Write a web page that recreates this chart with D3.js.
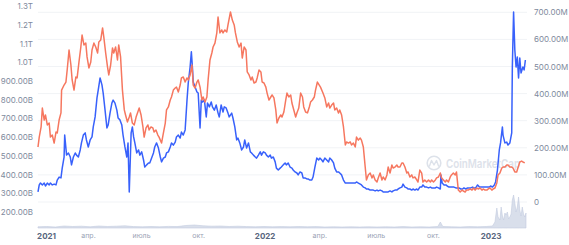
<!DOCTYPE html>
<html><head><meta charset="utf-8">
<script src="https://cdn.jsdelivr.net/npm/d3@7"></script>
<style>
body{margin:0;background:#fff;}
svg{display:block;font-family:Inter,"Noto Sans",sans-serif;}
</style>
</head><body>
<svg id="chart" width="569" height="245"></svg>
<script>
// ---- x axis: ordinal positions (sample index, ~1 per day) ----
const xTickPos    = [13, 80.5, 166, 258, 365, 453, 544, 636, 729];
const xTickLabels = ["2021","апр.","июль","окт.","2022","апр.","июль","окт.","2023"];
const xTickYear   = [true,false,false,false,true,false,false,false,true];

// ---- left axis (orange series, market value in B) ----
const leftTicks  = [200,300,400,500,600,700,800,900,1000,1100,1200,1300];
const leftLabels = ["200.00B","300.00B","400.00B","500.00B","600.00B","700.00B","800.00B","900.00B","1.0T","1.1T","1.2T","1.3T"];
// ---- right axis (blue series, in M) ----
const rightTicks  = [0,100,200,300,400,500,600,700];
const rightLabels = ["0","100.00M","200.00M","300.00M","400.00M","500.00M","600.00M","700.00M"];

// ---- orange series ----
const orangePos = [0,2,5,7,10,12,15,18,20,23,26,29,31,34,37,38,42,45,47,50,53,55,58,61,63,66,69,71,74,77,79,82,85,87,90,93,96,98,101,104,106,109,112,114,117,120,122,125,128,130,133,136,139,141,144,147,149,152,155,158,163,166,169,171,174,177,179,182,185,187,190,193,195,199,202,205,207,210,213,215,218,221,223,226,229,231,234,237,240,242,245,248,250,253,256,258,261,264,266,269,272,274,277,280,282,285,288,290,293,296,298,301,304,306,310,313,316,318,321,324,327,329,332,335,337,340,343,345,348,351,353,356,359,361,364,367,369,372,375,377,380,383,385,388,391,393,396,399,401,404,407,409,412,415,417,420,423,426,428,431,434,437,439,442,445,447,450,453,455,459,462,465,468,470,473,476,478,481,484,486,489,492,495,497,500,503,505,508,511,513,516,519,521,524,527,529,532,535,538,540,543,546,548,551,554,556,559,562,564,567,570,572,575,578,580,583,586,588,591,594,596,599,602,604,607,610,612,615,618,620,623,626,629,632,634,637,640,642,645,648,650,653,656,658,661,664,666,669,672,674,677,680,683,685,688,690,693,696,699,701,704,707,709,712,715,717,720,723,725,728,731,733,736,739,741,744,747,749,752,755,757,760,763,765,768,771,773,776,779,781,784];
const orangeValues = [547,600,654,755,691,718,665,675,600,611,568,627,622,691,729,851,878,894,958,1065,985,905,851,921,916,1001,1081,1145,1092,1102,1028,969,1001,1065,1102,1081,1049,1108,1118,1183,1134,1049,974,932,985,1076,1049,1081,1012,1092,1028,851,745,718,681,707,729,675,665,707,755,718,654,600,649,665,638,654,649,627,638,611,600,568,622,675,745,761,798,814,851,862,867,841,878,916,921,894,916,905,932,985,878,862,894,905,867,798,814,787,814,905,1012,1049,1081,1102,1156,1241,1156,1172,1156,1172,1161,1199,1268,1225,1199,1156,1108,1081,1102,1022,1081,1065,948,932,905,921,889,894,916,958,948,894,889,867,835,798,814,825,809,745,675,702,718,707,734,798,835,814,825,782,745,707,729,755,835,814,761,734,729,761,787,798,814,851,894,878,867,835,809,761,782,755,771,782,745,755,729,745,718,654,558,574,568,574,558,568,547,600,584,595,584,547,440,371,398,408,382,398,371,360,382,408,371,387,371,398,440,408,451,435,440,451,440,440,462,462,440,408,414,387,398,382,387,371,360,424,408,360,371,360,371,360,371,360,371,382,387,408,382,371,360,371,360,387,398,408,398,414,317,307,317,312,307,317,317,323,317,328,317,328,323,328,317,323,317,317,323,328,317,323,328,355,398,408,435,440,440,451,451,440,440,435,414,414,435,467,472,467,462];

// ---- blue series ----
const bluePos = [0,2,4,7,10,12,15,18,20,23,26,29,31,34,37,39,42,43,46,49,52,54,57,60,62,65,68,70,73,76,78,81,84,87,89,92,95,97,100,103,105,108,111,113,116,119,121,124,127,129,132,135,137,140,143,145,147,150,152,154,156,159,162,164,167,170,172,175,178,180,183,186,188,191,194,197,199,202,205,207,210,213,215,218,221,223,226,229,231,234,237,240,242,245,247,249,250,253,256,258,261,263,265,268,271,273,276,279,281,284,287,290,292,295,298,300,303,306,308,312,314,317,320,322,325,328,331,333,336,339,342,344,347,350,352,355,358,360,363,366,368,371,374,376,379,382,384,387,390,392,395,398,400,403,406,409,411,414,417,419,422,425,427,430,433,435,438,441,443,446,449,452,454,457,459,462,465,468,470,473,476,478,481,484,486,489,492,495,497,500,503,505,508,511,513,516,519,521,524,527,529,532,535,538,540,543,546,548,551,554,556,559,562,564,567,570,572,575,578,580,583,586,588,591,594,596,599,602,604,607,610,612,615,618,620,623,626,629,632,634,637,640,642,645,648,649,651,654,657,659,662,665,668,670,673,676,678,681,684,686,689,692,694,697,700,702,705,708,711,713,716,719,721,724,727,729,732,735,737,740,743,745,748,749,752,755,757,760,763,764,766,768,770,772,774,776,778,781,783,785];
const blueValues = [37,63,70,63,70,59,70,63,70,63,66,63,81,92,89,125,166,247,173,181,166,137,166,181,173,166,192,218,247,255,229,203,229,240,277,314,384,413,458,432,402,339,273,284,328,365,376,365,339,310,303,284,247,203,166,218,37,255,277,240,218,181,192,173,185,155,129,137,144,144,162,181,203,218,199,166,148,162,166,181,185,203,218,210,221,240,247,236,258,247,266,376,439,498,554,487,443,424,406,402,273,376,369,376,314,365,351,369,351,339,358,328,314,358,332,351,347,328,314,328,310,277,229,236,218,192,203,229,199,218,185,181,173,166,162,173,185,173,185,181,173,166,173,162,166,148,125,118,125,129,137,144,137,144,129,125,118,111,107,100,111,107,89,89,85,85,81,81,92,129,162,155,162,155,148,162,155,148,162,155,144,125,111,111,107,100,81,70,70,70,70,70,70,70,74,70,66,63,55,52,48,48,44,44,44,41,44,41,44,41,37,37,37,37,41,37,41,44,44,48,52,55,66,55,52,48,48,44,48,44,48,44,55,55,63,55,55,52,55,52,52,52,55,52,48,100,70,63,63,59,55,55,55,55,52,52,52,48,48,52,48,52,52,52,55,52,52,63,55,55,55,55,55,55,55,59,55,63,74,118,192,218,277,247,218,221,210,218,255,498,701,561,498,535,458,531,476,498,487,524];

// ---- volume (bottom band, in M) ----
const volumePos = [0,14,28,42,56,70,84,98,112,126,140,154,168,182,196,210,224,238,252,266,280,294,308,322,336,350,364,378,392,406,420,434,448,462,476,490,504,518,532,546,560,574,588,602,616,630,644,648,652,666,680,694,708,722,732,736,739,741,744,746,748,750,752,754,756,758,760,762,764,766,768,770,772,774,776,778,780,782,784,786];
const volumeValues = [12,15,10,20,15,18,12,20,15,18,22,14,12,15,12,16,14,25,30,22,18,20,15,18,14,12,15,12,14,12,15,12,14,10,12,10,12,10,12,10,12,10,14,10,12,10,15,60,15,12,10,14,12,15,20,60,200,110,80,210,120,80,150,130,160,90,110,140,280,330,250,160,210,310,180,120,210,140,110,150];

const svg = d3.select("#chart");
const x  = d3.scaleLinear().domain([0, 786]).range([38, 526]);
const yL = d3.scaleLinear().domain([200, 1300]).range([212, 6]);
const yR = d3.scaleLinear().domain([0, 700]).range([202, 12.3]);
const yV = d3.scaleLinear().domain([0, 350]).range([228, 193]);

// gridlines
svg.append("g").selectAll("line").data(rightTicks).join("line")
  .attr("x1", 38).attr("x2", 527)
  .attr("y1", d => yR(d)).attr("y2", d => yR(d))
  .attr("stroke", "#f1f3f6").attr("stroke-width", 1);

// watermark
const wm = svg.append("g").attr("opacity", 1);
wm.append("circle").attr("cx", 434).attr("cy", 163).attr("r", 6.8)
  .attr("fill", "none").attr("stroke", "#dde2ea").attr("stroke-width", 1.6);
wm.append("path").attr("d", "M429.5,166 L431.5,160.5 L434,165 L436.5,160.5 L438.5,166")
  .attr("fill", "none").attr("stroke", "#dde2ea").attr("stroke-width", 1.4)
  .attr("stroke-linejoin", "round").attr("stroke-linecap", "round");
wm.append("text").attr("x", 446).attr("y", 167.5)
  .attr("font-size", 12).attr("font-weight", 600).attr("fill", "#dde2ea")
  .attr("textLength", 74).attr("lengthAdjust", "spacingAndGlyphs")
  .text("CoinMarketCap");

// volume area
const volData = volumePos.map((p, i) => ({p, v: volumeValues[i]}));
svg.append("path").datum(volData)
  .attr("d", d3.area().x(d => x(d.p)).y0(yV(0)).y1(d => yV(d.v)))
  .attr("fill", "#c9d1e3").attr("fill-opacity", 0.7)
  .attr("stroke", "#c3cbdf").attr("stroke-width", 0.6);

// lines
const blueData = bluePos.map((p, i) => ({p, v: blueValues[i]}));
const orangeData = orangePos.map((p, i) => ({p, v: orangeValues[i]}));
svg.append("path").datum(blueData)
  .attr("d", d3.line().x(d => x(d.p)).y(d => yR(d.v)))
  .attr("fill", "none").attr("stroke", "#3861fb").attr("stroke-width", 1.5)
  .attr("stroke-linejoin", "round");
svg.append("path").datum(orangeData)
  .attr("d", d3.line().x(d => x(d.p)).y(d => yL(d.v)))
  .attr("fill", "none").attr("stroke", "#f6775f").attr("stroke-width", 1.5)
  .attr("stroke-linejoin", "round");

// left axis
const axL = d3.axisLeft(yL).tickValues(leftTicks).tickSize(0).tickPadding(0)
  .tickFormat((d, i) => leftLabels[i]);
const gL = svg.append("g").attr("transform", "translate(33,0)").call(axL);
gL.select(".domain").remove();
gL.selectAll("text").attr("font-size", 8).attr("fill", "#808a9d")
  .attr("font-family", "Inter,'Noto Sans',sans-serif");

// right axis
const axR = d3.axisRight(yR).tickValues(rightTicks).tickSize(0).tickPadding(0)
  .tickFormat((d, i) => rightLabels[i]);
const gR = svg.append("g").attr("transform", "translate(534,0)").call(axR);
gR.select(".domain").remove();
gR.selectAll("text").attr("font-size", 8).attr("fill", "#808a9d")
  .attr("font-family", "Inter,'Noto Sans',sans-serif");

// bottom axis
const axB = d3.axisBottom(x).tickValues(xTickPos).tickSize(0).tickPadding(0)
  .tickFormat((d, i) => xTickLabels[i]);
const gB = svg.append("g").attr("transform", "translate(0,233)").call(axB);
gB.select(".domain").remove();
gB.selectAll("text")
  .attr("font-family", "Inter,'Noto Sans',sans-serif")
  .attr("font-size", (d, i) => xTickYear[i] ? 8 : 7)
  .attr("font-weight", (d, i) => xTickYear[i] ? 700 : 400)
  .attr("fill", (d, i) => xTickYear[i] ? "#58667e" : "#9aa3b5");
</script>
</body></html>
